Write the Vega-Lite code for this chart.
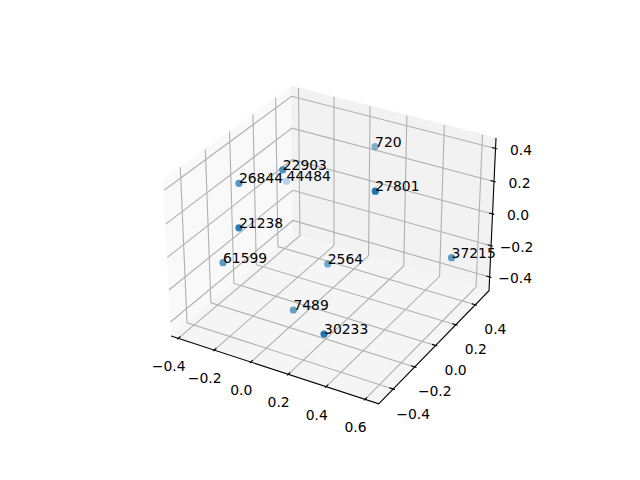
{"$schema":"https://vega.github.io/schema/vega-lite/v6.json","width":640,"height":480,"padding":0,"autosize":{"type":"none"},"background":"white","config":{"view":{"stroke":null}},
"data":{"values":[
{"k":"paneX","g":"p","i":0,"x":-0.44,"y":-0.53,"z":-0.489},{"k":"paneX","g":"p","i":1,"x":-0.44,"y":-0.53,"z":0.4625},{"k":"paneX","g":"p","i":2,"x":-0.44,"y":0.544,"z":0.4625},{"k":"paneX","g":"p","i":3,"x":-0.44,"y":0.544,"z":-0.489},{"k":"paneX","g":"p","i":4,"x":-0.44,"y":-0.53,"z":-0.489},
{"k":"paneY","g":"p","i":0,"x":-0.44,"y":0.544,"z":-0.489},{"k":"paneY","g":"p","i":1,"x":-0.44,"y":0.544,"z":0.4625},{"k":"paneY","g":"p","i":2,"x":0.67,"y":0.544,"z":0.4625},{"k":"paneY","g":"p","i":3,"x":0.67,"y":0.544,"z":-0.489},{"k":"paneY","g":"p","i":4,"x":-0.44,"y":0.544,"z":-0.489},
{"k":"paneZ","g":"p","i":0,"x":-0.44,"y":-0.53,"z":-0.489},{"k":"paneZ","g":"p","i":1,"x":0.67,"y":-0.53,"z":-0.489},{"k":"paneZ","g":"p","i":2,"x":0.67,"y":0.544,"z":-0.489},{"k":"paneZ","g":"p","i":3,"x":-0.44,"y":0.544,"z":-0.489},{"k":"paneZ","g":"p","i":4,"x":-0.44,"y":-0.53,"z":-0.489},

{"k":"grid","g":"xa","i":0,"x":-0.4,"y":-0.53,"z":-0.489},{"k":"grid","g":"xa","i":1,"x":-0.4,"y":0.544,"z":-0.489},{"k":"grid","g":"xa","i":2,"x":-0.4,"y":0.544,"z":0.4625},
{"k":"grid","g":"xb","i":0,"x":-0.2,"y":-0.53,"z":-0.489},{"k":"grid","g":"xb","i":1,"x":-0.2,"y":0.544,"z":-0.489},{"k":"grid","g":"xb","i":2,"x":-0.2,"y":0.544,"z":0.4625},
{"k":"grid","g":"xc","i":0,"x":0,"y":-0.53,"z":-0.489},{"k":"grid","g":"xc","i":1,"x":0,"y":0.544,"z":-0.489},{"k":"grid","g":"xc","i":2,"x":0,"y":0.544,"z":0.4625},
{"k":"grid","g":"xd","i":0,"x":0.2,"y":-0.53,"z":-0.489},{"k":"grid","g":"xd","i":1,"x":0.2,"y":0.544,"z":-0.489},{"k":"grid","g":"xd","i":2,"x":0.2,"y":0.544,"z":0.4625},
{"k":"grid","g":"xe","i":0,"x":0.4,"y":-0.53,"z":-0.489},{"k":"grid","g":"xe","i":1,"x":0.4,"y":0.544,"z":-0.489},{"k":"grid","g":"xe","i":2,"x":0.4,"y":0.544,"z":0.4625},
{"k":"grid","g":"xf","i":0,"x":0.6,"y":-0.53,"z":-0.489},{"k":"grid","g":"xf","i":1,"x":0.6,"y":0.544,"z":-0.489},{"k":"grid","g":"xf","i":2,"x":0.6,"y":0.544,"z":0.4625},

{"k":"grid","g":"ya","i":0,"x":0.67,"y":-0.4,"z":-0.489},{"k":"grid","g":"ya","i":1,"x":-0.44,"y":-0.4,"z":-0.489},{"k":"grid","g":"ya","i":2,"x":-0.44,"y":-0.4,"z":0.4625},
{"k":"grid","g":"yb","i":0,"x":0.67,"y":-0.2,"z":-0.489},{"k":"grid","g":"yb","i":1,"x":-0.44,"y":-0.2,"z":-0.489},{"k":"grid","g":"yb","i":2,"x":-0.44,"y":-0.2,"z":0.4625},
{"k":"grid","g":"yc","i":0,"x":0.67,"y":0,"z":-0.489},{"k":"grid","g":"yc","i":1,"x":-0.44,"y":0,"z":-0.489},{"k":"grid","g":"yc","i":2,"x":-0.44,"y":0,"z":0.4625},
{"k":"grid","g":"yd","i":0,"x":0.67,"y":0.2,"z":-0.489},{"k":"grid","g":"yd","i":1,"x":-0.44,"y":0.2,"z":-0.489},{"k":"grid","g":"yd","i":2,"x":-0.44,"y":0.2,"z":0.4625},
{"k":"grid","g":"ye","i":0,"x":0.67,"y":0.4,"z":-0.489},{"k":"grid","g":"ye","i":1,"x":-0.44,"y":0.4,"z":-0.489},{"k":"grid","g":"ye","i":2,"x":-0.44,"y":0.4,"z":0.4625},

{"k":"grid","g":"za","i":0,"x":-0.44,"y":-0.53,"z":-0.4},{"k":"grid","g":"za","i":1,"x":-0.44,"y":0.544,"z":-0.4},{"k":"grid","g":"za","i":2,"x":0.67,"y":0.544,"z":-0.4},
{"k":"grid","g":"zb","i":0,"x":-0.44,"y":-0.53,"z":-0.2},{"k":"grid","g":"zb","i":1,"x":-0.44,"y":0.544,"z":-0.2},{"k":"grid","g":"zb","i":2,"x":0.67,"y":0.544,"z":-0.2},
{"k":"grid","g":"zc","i":0,"x":-0.44,"y":-0.53,"z":0},{"k":"grid","g":"zc","i":1,"x":-0.44,"y":0.544,"z":0},{"k":"grid","g":"zc","i":2,"x":0.67,"y":0.544,"z":0},
{"k":"grid","g":"zd","i":0,"x":-0.44,"y":-0.53,"z":0.2},{"k":"grid","g":"zd","i":1,"x":-0.44,"y":0.544,"z":0.2},{"k":"grid","g":"zd","i":2,"x":0.67,"y":0.544,"z":0.2},
{"k":"grid","g":"ze","i":0,"x":-0.44,"y":-0.53,"z":0.4},{"k":"grid","g":"ze","i":1,"x":-0.44,"y":0.544,"z":0.4},{"k":"grid","g":"ze","i":2,"x":0.67,"y":0.544,"z":0.4},

{"k":"axis","g":"line","i":0,"x":-0.44,"y":-0.53,"z":-0.489},{"k":"axis","g":"line","i":1,"x":0.67,"y":-0.53,"z":-0.489},{"k":"axis","g":"line","i":2,"x":0.67,"y":0.544,"z":-0.489},{"k":"axis","g":"line","i":3,"x":0.67,"y":0.544,"z":0.4625},

{"k":"axis","g":"xa","i":0,"x":-0.4,"y":-0.5121,"z":-0.489},{"k":"axis","g":"xa","i":1,"x":-0.4,"y":-0.539,"z":-0.489},
{"k":"axis","g":"xb","i":0,"x":-0.2,"y":-0.5121,"z":-0.489},{"k":"axis","g":"xb","i":1,"x":-0.2,"y":-0.539,"z":-0.489},
{"k":"axis","g":"xc","i":0,"x":0,"y":-0.5121,"z":-0.489},{"k":"axis","g":"xc","i":1,"x":0,"y":-0.539,"z":-0.489},
{"k":"axis","g":"xd","i":0,"x":0.2,"y":-0.5121,"z":-0.489},{"k":"axis","g":"xd","i":1,"x":0.2,"y":-0.539,"z":-0.489},
{"k":"axis","g":"xe","i":0,"x":0.4,"y":-0.5121,"z":-0.489},{"k":"axis","g":"xe","i":1,"x":0.4,"y":-0.539,"z":-0.489},
{"k":"axis","g":"xf","i":0,"x":0.6,"y":-0.5121,"z":-0.489},{"k":"axis","g":"xf","i":1,"x":0.6,"y":-0.539,"z":-0.489},

{"k":"axis","g":"ya","i":0,"x":0.6515,"y":-0.4,"z":-0.489},{"k":"axis","g":"ya","i":1,"x":0.6793,"y":-0.4,"z":-0.489},
{"k":"axis","g":"yb","i":0,"x":0.6515,"y":-0.2,"z":-0.489},{"k":"axis","g":"yb","i":1,"x":0.6793,"y":-0.2,"z":-0.489},
{"k":"axis","g":"yc","i":0,"x":0.6515,"y":0,"z":-0.489},{"k":"axis","g":"yc","i":1,"x":0.6793,"y":0,"z":-0.489},
{"k":"axis","g":"yd","i":0,"x":0.6515,"y":0.2,"z":-0.489},{"k":"axis","g":"yd","i":1,"x":0.6793,"y":0.2,"z":-0.489},
{"k":"axis","g":"ye","i":0,"x":0.6515,"y":0.4,"z":-0.489},{"k":"axis","g":"ye","i":1,"x":0.6793,"y":0.4,"z":-0.489},

{"k":"axis","g":"za","i":0,"x":0.6515,"y":0.544,"z":-0.4},{"k":"axis","g":"za","i":1,"x":0.6793,"y":0.544,"z":-0.4},
{"k":"axis","g":"zb","i":0,"x":0.6515,"y":0.544,"z":-0.2},{"k":"axis","g":"zb","i":1,"x":0.6793,"y":0.544,"z":-0.2},
{"k":"axis","g":"zc","i":0,"x":0.6515,"y":0.544,"z":0},{"k":"axis","g":"zc","i":1,"x":0.6793,"y":0.544,"z":0},
{"k":"axis","g":"zd","i":0,"x":0.6515,"y":0.544,"z":0.2},{"k":"axis","g":"zd","i":1,"x":0.6793,"y":0.544,"z":0.2},
{"k":"axis","g":"ze","i":0,"x":0.6515,"y":0.544,"z":0.4},{"k":"axis","g":"ze","i":1,"x":0.6793,"y":0.544,"z":0.4},

{"k":"xl","label":"−0.4","x":-0.4,"y":-0.53,"z":-0.489},{"k":"xl","label":"−0.2","x":-0.2,"y":-0.53,"z":-0.489},{"k":"xl","label":"0.0","x":0,"y":-0.53,"z":-0.489},{"k":"xl","label":"0.2","x":0.2,"y":-0.53,"z":-0.489},{"k":"xl","label":"0.4","x":0.4,"y":-0.53,"z":-0.489},{"k":"xl","label":"0.6","x":0.6,"y":-0.53,"z":-0.489},
{"k":"yl","label":"−0.4","x":0.67,"y":-0.4,"z":-0.489},{"k":"yl","label":"−0.2","x":0.67,"y":-0.2,"z":-0.489},{"k":"yl","label":"0.0","x":0.67,"y":0,"z":-0.489},{"k":"yl","label":"0.2","x":0.67,"y":0.2,"z":-0.489},{"k":"yl","label":"0.4","x":0.67,"y":0.4,"z":-0.489},
{"k":"zl","label":"−0.4","x":0.67,"y":0.544,"z":-0.4},{"k":"zl","label":"−0.2","x":0.67,"y":0.544,"z":-0.2},{"k":"zl","label":"0.0","x":0.67,"y":0.544,"z":0},{"k":"zl","label":"0.2","x":0.67,"y":0.544,"z":0.2},{"k":"zl","label":"0.4","x":0.67,"y":0.544,"z":0.4},

{"k":"pt","label":"44484","x":-0.404,"y":0.432,"z":-0.068},
{"k":"pt","label":"720","x":0.08,"y":0.455,"z":0.284},
{"k":"pt","label":"2564","x":0.064,"y":0.044,"z":-0.218},
{"k":"pt","label":"7489","x":0.011,"y":-0.179,"z":-0.388},
{"k":"pt","label":"61599","x":-0.3,"y":-0.291,"z":-0.13},
{"k":"pt","label":"37215","x":0.618,"y":0.235,"z":-0.107},
{"k":"pt","label":"26844","x":-0.306,"y":-0.133,"z":0.262},
{"k":"pt","label":"22903","x":-0.115,"y":-0.056,"z":0.359},
{"k":"pt","label":"21238","x":-0.121,"y":-0.417,"z":0.216},
{"k":"pt","label":"27801","x":0.393,"y":-0.092,"z":0.41},
{"k":"pt","label":"30233","x":0.354,"y":-0.471,"z":-0.223}
]},
"transform":[
{"calculate":"(datum.x+0.44)/1.11*1.1905-0.59525","as":"bx"},
{"calculate":"(datum.y+0.53)/1.074*1.1905-0.59525","as":"by"},
{"calculate":"(datum.z+0.489)/0.9515*0.8929-0.44645","as":"bz"},
{"calculate":"0.433013*datum.bx-0.75*datum.by+0.5*datum.bz","as":"depth"},
{"calculate":"(0.866025*datum.bx+0.5*datum.by)/(10-datum.depth)","as":"vx"},
{"calculate":"(-0.25*datum.bx+0.433013*datum.by+0.866025*datum.bz)/(10-datum.depth)","as":"vy"}
],
"encoding":{
"x":{"field":"vx","type":"quantitative","scale":{"domain":[-0.16668,0.15367],"nice":false,"zero":false},"axis":null},
"y":{"field":"vy","type":"quantitative","scale":{"domain":[-0.12143,0.11883],"nice":false,"zero":false},"axis":null}
},
"layer":[
{"transform":[{"filter":"datum.k==='paneX'"}],"mark":{"type":"line","fill":"#f9f9f9","stroke":"#f9f9f9","strokeWidth":1,"clip":false},"encoding":{"order":{"field":"i","type":"quantitative"}}},
{"transform":[{"filter":"datum.k==='paneY'"}],"mark":{"type":"line","fill":"#f2f2f2","stroke":"#f2f2f2","strokeWidth":1},"encoding":{"order":{"field":"i","type":"quantitative"}}},
{"transform":[{"filter":"datum.k==='paneZ'"}],"mark":{"type":"line","fill":"#f5f5f5","stroke":"#f5f5f5","strokeWidth":1},"encoding":{"order":{"field":"i","type":"quantitative"}}},
{"transform":[{"filter":"datum.k==='grid'"}],"mark":{"type":"line","stroke":"#b0b0b0","strokeWidth":1.1},"encoding":{"detail":{"field":"g"},"order":{"field":"i","type":"quantitative"}}},
{"transform":[{"filter":"datum.k==='axis'"}],"mark":{"type":"line","stroke":"#000000","strokeWidth":1.1},"encoding":{"detail":{"field":"g"},"order":{"field":"i","type":"quantitative"}}},
{"transform":[{"filter":"datum.k==='pt'"}],"mark":{"type":"point","filled":true,"size":52,"color":"#1f77b4"},"encoding":{"opacity":{"field":"depth","type":"quantitative","scale":{"domain":[-0.62,0.41],"range":[0.3,1]},"legend":null}}},
{"transform":[{"filter":"datum.k==='pt'"}],"mark":{"type":"text","align":"left","baseline":"alphabetic","font":"DejaVu Sans","fontSize":13.9,"color":"#000000"},"encoding":{"text":{"field":"label"}}},
{"transform":[{"filter":"datum.k==='xl'"}],"mark":{"type":"text","align":"center","baseline":"middle","dx":-9.5,"dy":29,"font":"DejaVu Sans","fontSize":13.9,"color":"#000000"},"encoding":{"text":{"field":"label"}}},
{"transform":[{"filter":"datum.k==='yl'"}],"mark":{"type":"text","align":"center","baseline":"middle","dx":20,"dy":25.5,"font":"DejaVu Sans","fontSize":13.9,"color":"#000000"},"encoding":{"text":{"field":"label"}}},
{"transform":[{"filter":"datum.k==='zl'"}],"mark":{"type":"text","align":"center","baseline":"middle","dx":25.5,"dy":2.5,"font":"DejaVu Sans","fontSize":13.9,"color":"#000000"},"encoding":{"text":{"field":"label"}}}
]}
